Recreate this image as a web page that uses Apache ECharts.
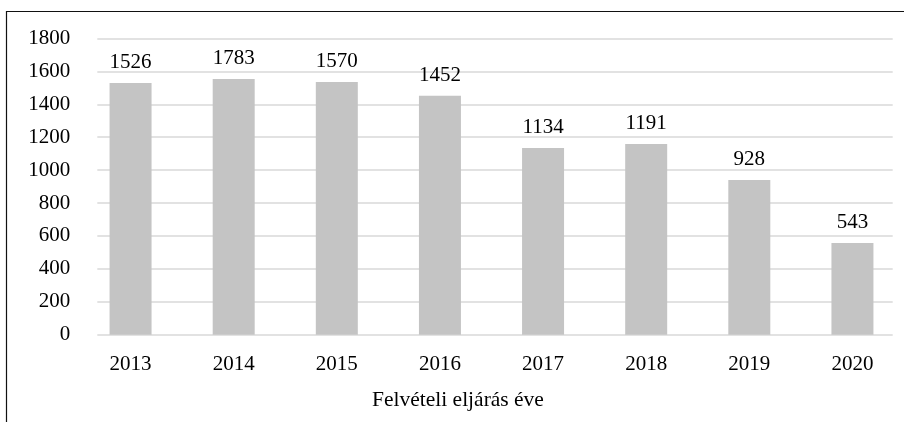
<!DOCTYPE html>
<html>
<head>
    <meta charset="utf-8" />
    <title>Felvételi eljárás éve</title>
    <script src="https://cdn.jsdelivr.net/npm/echarts@6/dist/echarts.min.js"></script>
    <style>
        html, body { margin: 0; padding: 0; background: #fff; }
        #chart { width: 904px; height: 422px; }
    </style>
</head>
<body>
    <div id="chart"></div>
    <script type="text/javascript">
        // years on the x axis
        var years = ['2013', '2014', '2015', '2016', '2017', '2018', '2019', '2020'];
        // bar heights as drawn in the picture
        var barHeights = [1530, 1554, 1536, 1452, 1135, 1159, 940, 557];
        // numbers printed above the bars
        var barLabels = ['1526', '1783', '1570', '1452', '1134', '1191', '928', '543'];
        // y axis ticks
        var yMin = 0, yMax = 1800, yStep = 200;

        var font = 'Liberation Serif';
        var chart = echarts.init(document.getElementById('chart'));

        var option = {
            animation: false,
            title: {
                text: 'Felvételi eljárás éve',
                left: 367,
                top: 384,
                textStyle: { fontFamily: font, fontSize: 21.5, fontWeight: 'normal', color: '#000' }
            },
            grid: [
                // bars sit in this one
                { left: 79, width: 829, top: 38.5, bottom: 87.3 },
                // gridlines + y labels
                { left: 97.3, width: 795.4, top: 38.5, bottom: 87.3 }
            ],
            xAxis: [{
                gridIndex: 0,
                type: 'category',
                data: years,
                axisLine: { show: false },
                axisTick: { show: false },
                axisLabel: { fontFamily: font, fontSize: 21, color: '#000', margin: 19 }
            }, {
                gridIndex: 1,
                type: 'category',
                data: years,
                show: false
            }],
            yAxis: [{
                gridIndex: 0,
                type: 'value',
                min: yMin, max: yMax, interval: yStep,
                show: false
            }, {
                gridIndex: 1,
                type: 'value',
                min: yMin, max: yMax, interval: yStep,
                axisLine: { show: false },
                axisTick: { show: false },
                splitLine: { lineStyle: { color: '#d9d9d9', width: 1.5 } },
                axisLabel: {
                    fontFamily: font, fontSize: 21, color: '#000', margin: 27,
                    formatter: function (v) { return String(v); }
                }
            }],
            series: [{
                type: 'bar',
                xAxisIndex: 0,
                yAxisIndex: 0,
                data: barHeights,
                barWidth: 42,
                itemStyle: { color: '#c4c4c4' },
                label: {
                    show: true,
                    position: 'top',
                    distance: 10,
                    fontFamily: font,
                    fontSize: 21,
                    color: '#000',
                    formatter: function (p) { return barLabels[p.dataIndex]; }
                }
            }],
            graphic: [{
                type: 'rect',
                shape: { x: 6.5, y: 11.5, width: 1000, height: 1000 },
                style: { fill: null, stroke: '#111', lineWidth: 1.2 },
                silent: true
            }]
        };

        chart.setOption(option);
    </script>
</body>
</html>
